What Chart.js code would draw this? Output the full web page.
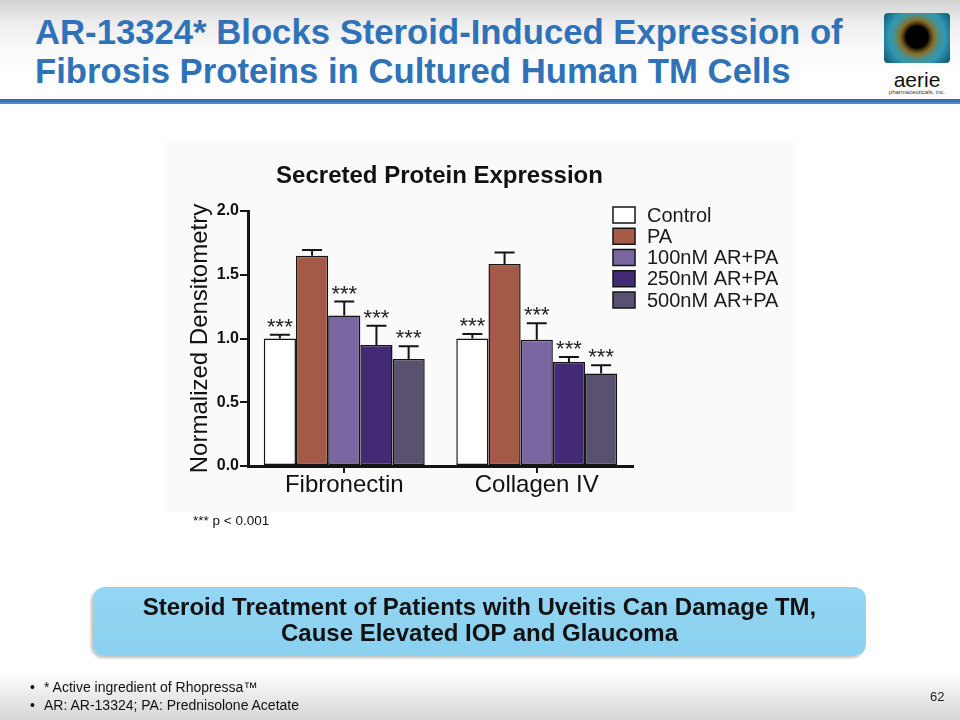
<!DOCTYPE html>
<html>
<head>
<meta charset="utf-8">
<script src="https://cdn.jsdelivr.net/npm/chart.js@4.4.1/dist/chart.umd.min.js"></script>
<style>
html,body{margin:0;padding:0;}
body{width:960px;height:720px;position:relative;overflow:hidden;background:#fff;font-family:"Liberation Sans",Arial,sans-serif;}
#hdr{position:absolute;left:0;top:0;width:960px;height:99px;background:linear-gradient(#d2d2d2 0px,#ececec 22px,#fafafa 50px,#fff 80px);}
#rule{position:absolute;left:0;top:99px;width:960px;height:5px;background:linear-gradient(#2564aa,#5592d0);}
#title{position:absolute;left:35px;top:13px;font-weight:bold;font-size:34.7px;line-height:39px;color:#3072b8;white-space:nowrap;}
#eye{position:absolute;left:884px;top:13px;width:66px;height:50px;border-radius:4px;
 background:radial-gradient(circle at 50% 48%,#000 0,#000 11px,#3b2e10 13px,#8a6e26 17px,#4c8e8c 22px,#2f98b4 28px,#1a6f8c 36px,#0b3c50 46px);}
#aerie{position:absolute;left:884px;top:68px;width:66px;text-align:center;font-size:21px;line-height:24px;color:#111;}
#pharma{position:absolute;left:884px;top:89px;width:66px;text-align:center;font-size:6px;line-height:7px;color:#333;}
#plotbg{position:absolute;left:167px;top:140px;width:626px;height:372px;background:#fafafa;}
#chartwrap{position:absolute;left:0;top:0;width:960px;height:720px;}
#pnote{position:absolute;left:193px;top:513px;font-size:13.5px;line-height:16px;color:#111;white-space:nowrap;}
#callout{position:absolute;left:93px;top:587px;width:773px;height:69px;border-radius:12px;
 background:linear-gradient(#94d6f3,#8bd0ef);box-shadow:-2px 2px 3px rgba(0,0,0,0.25);
 text-align:center;font-weight:bold;font-size:24px;line-height:26px;color:#111;box-sizing:border-box;padding-top:7px;}
#foot{position:absolute;left:0;top:672px;width:960px;height:48px;background:linear-gradient(#fff,#e6e6e6 60%,#d6d6d6);}
.bul{position:absolute;left:30px;font-size:14px;line-height:18px;color:#111;white-space:nowrap;}
.bul span{display:inline-block;width:14px;}
#pg{position:absolute;left:930px;top:689px;font-size:13px;line-height:16px;color:#222;}
</style>
</head>
<body>
<div id="hdr"></div>
<div id="rule"></div>
<div id="title">AR-13324* Blocks Steroid-Induced Expression of<br>Fibrosis Proteins in Cultured Human TM Cells</div>
<div id="eye"></div>
<div id="aerie">aerie</div>
<div id="pharma">pharmaceuticals, inc.</div>
<div id="plotbg"></div>
<div id="foot"></div>
<div id="chartwrap"><canvas id="c" width="960" height="720"></canvas></div>
<div id="pnote">*** p &lt; 0.001</div>
<div id="callout">Steroid Treatment of Patients with Uveitis Can Damage TM,<br>Cause Elevated IOP and Glaucoma</div>
<div class="bul" style="top:678px"><span>•</span>* Active ingredient of Rhopressa™</div>
<div class="bul" style="top:696px"><span>•</span>AR: AR-13324; PA: Prednisolone Acetate</div>
<div id="pg">62</div>
<script>
// ---- data ----
const chartTitle = 'Secreted Protein Expression';
const yAxisTitle = 'Normalized Densitometry';
const categories = ['Fibronectin', 'Collagen IV'];
const seriesLabels = ['Control', 'PA', '100nM AR+PA', '250nM AR+PA', '500nM AR+PA'];
const controlValues = [1.00, 1.00];
const paValues      = [1.65, 1.585];
const ar100Values   = [1.18, 0.99];
const ar250Values   = [0.95, 0.815];
const ar500Values   = [0.84, 0.725];
const controlErr = [0.03, 0.035];
const paErr      = [0.045, 0.09];
const ar100Err   = [0.11, 0.13];
const ar250Err   = [0.15, 0.04];
const ar500Err   = [0.10, 0.065];
const controlSig = ['***', '***'];
const paSig      = ['', ''];
const ar100Sig   = ['***', '***'];
const ar250Sig   = ['***', '***'];
const ar500Sig   = ['***', '***'];
const yTicks = [0, 0.5, 1.0, 1.5, 2.0];

const seriesValues = [controlValues, paValues, ar100Values, ar250Values, ar500Values];
const seriesErrors = [controlErr, paErr, ar100Err, ar250Err, ar500Err];
const seriesSig = [controlSig, paSig, ar100Sig, ar250Sig, ar500Sig];

// ---- styles ----
const FONT = '"Liberation Sans", Arial, sans-serif';
const colors = ['#ffffff', '#a55a48', '#7a66a0', '#432a76', '#5a5070'];
const ink = '#141414';

const overlay = {
  id: 'overlay',
  afterDatasetsDraw(chart) {
    const ctx = chart.ctx, y = chart.scales.y;
    ctx.save();
    chart.data.datasets.forEach((ds, i) => {
      const meta = chart.getDatasetMeta(i);
      meta.data.forEach((bar, j) => {
        const v = seriesValues[i][j], e = seriesErrors[i][j];
        const yb = y.getPixelForValue(v), yt = y.getPixelForValue(v + e);
        ctx.strokeStyle = ink; ctx.lineWidth = 2;
        ctx.beginPath();
        ctx.moveTo(bar.x, yb); ctx.lineTo(bar.x, yt);
        ctx.moveTo(bar.x - 10, yt); ctx.lineTo(bar.x + 10, yt);
        ctx.stroke();
        if (seriesSig[i][j]) {
          ctx.fillStyle = '#222';
          ctx.font = '22px ' + FONT;
          ctx.textAlign = 'center'; ctx.textBaseline = 'alphabetic';
          ctx.fillText(seriesSig[i][j], bar.x, yt - 1);
        }
      });
    });
    ctx.restore();
  },
  afterDraw(chart) {
    const ctx = chart.ctx, a = chart.chartArea;
    ctx.save();
    ctx.fillStyle = '#111';
    ctx.font = 'bold 24px ' + FONT;
    ctx.textAlign = 'center'; ctx.textBaseline = 'alphabetic';
    ctx.fillText(chartTitle, (a.left + a.right) / 2 - 1, a.top - 28);
    // legend
    const lx = a.right - 20, ly = a.top + 4, dy = 21.25;
    ctx.font = '20px ' + FONT;
    ctx.textAlign = 'left'; ctx.textBaseline = 'middle';
    chart.data.datasets.forEach((ds, i) => {
      const cy = ly + i * dy;
      ctx.fillStyle = ds.backgroundColor;
      ctx.fillRect(lx, cy - 8, 22, 16);
      ctx.strokeStyle = ink; ctx.lineWidth = 1.5;
      ctx.strokeRect(lx, cy - 8, 22, 16);
      ctx.fillStyle = '#1a1a1a';
      ctx.fillText(ds.label, lx + 34, cy + 1);
    });
    ctx.restore();
  }
};

new Chart(document.getElementById('c'), {
  type: 'bar',
  data: {
    labels: categories,
    datasets: seriesLabels.map((l, i) => ({
      label: l, data: seriesValues[i], backgroundColor: colors[i],
      borderColor: ink, borderWidth: 1.5, borderSkipped: false,
      categoryPercentage: 0.836, barPercentage: 1.0
    }))
  },
  options: {
    responsive: false, animation: false, devicePixelRatio: 1,
    layout: { padding: { left: 160, top: 211, right: 327, bottom: 214 } },
    plugins: { legend: { display: false }, title: { display: false }, tooltip: { enabled: false } },
    scales: {
      x: {
        grid: { offset: false, drawOnChartArea: false, drawTicks: true, tickLength: 7, color: ink, lineWidth: 2 },
        border: { display: true, color: ink, width: 3 },
        ticks: { font: { size: 24, family: FONT, lineHeight: 1 }, color: '#111', padding: 0.5 },
        afterFit(s) { s.height = 40; }
      },
      y: {
        min: 0, max: 2,
        afterBuildTicks(s) { s.ticks = yTicks.map(v => ({ value: v })); },
        ticks: { callback: v => Number(v).toFixed(1), font: { size: 16, weight: 'bold', family: FONT }, color: '#111', padding: 1 },
        grid: { drawOnChartArea: false, drawTicks: true, tickLength: 8, color: ink, lineWidth: 2 },
        border: { display: true, color: ink, width: 3 },
        title: { display: true, text: yAxisTitle, font: { size: 24, family: FONT, lineHeight: 1.2 }, color: '#111', padding: { top: 26, bottom: 0 } },
        afterFit(s) { s.width = 88; }
      }
    }
  },
  plugins: [overlay]
});
</script>
</body>
</html>
